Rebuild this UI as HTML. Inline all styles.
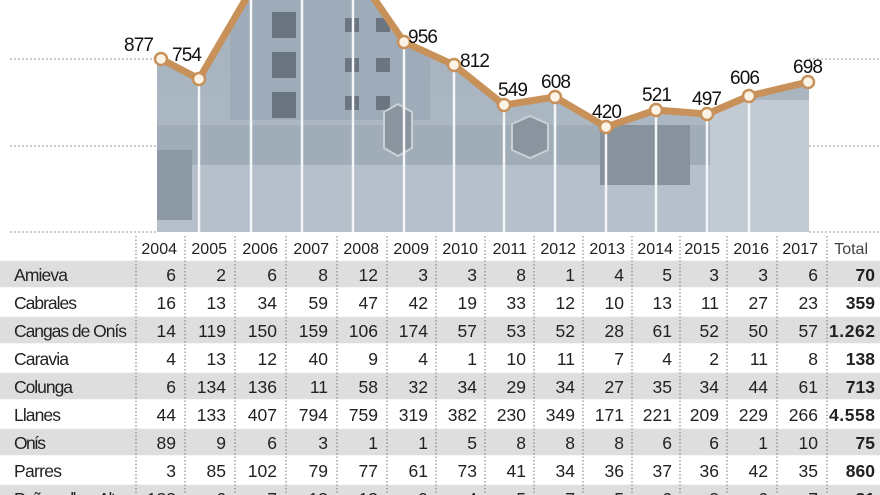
<!DOCTYPE html>
<html><head><meta charset="utf-8"><style>
html,body{margin:0;padding:0;background:#fff;width:880px;height:495px;overflow:hidden}
svg{display:block}
text{font-family:"Liberation Sans",sans-serif;}
</style></head><body>
<svg width="880" height="495" viewBox="0 0 880 495" xmlns="http://www.w3.org/2000/svg">
<defs>
<clipPath id="ph"><polygon points="157,232 157,59 161,59 199,79 251,-10 302,-60 353,-32 404,42 454,65 504,105 555,97 606,127 656,110 707,114 749,96 808,82 809,82 809,232"/></clipPath>
<linearGradient id="sky" x1="0" y1="0" x2="0" y2="1"><stop offset="0" stop-color="#a2afbb"/><stop offset="0.6" stop-color="#aab6c1"/><stop offset="1" stop-color="#b9c3cc"/></linearGradient>
</defs>
<g stroke="#999" stroke-width="1" stroke-dasharray="2,2">
<line x1="10" y1="59" x2="157" y2="59"/><line x1="10" y1="146" x2="157" y2="146"/><line x1="10" y1="232" x2="157" y2="232"/>
<line x1="809" y1="59" x2="880" y2="59"/><line x1="809" y1="146" x2="880" y2="146"/><line x1="809" y1="232" x2="880" y2="232"/>
</g>
<g clip-path="url(#ph)">
<rect x="157" y="-70" width="652" height="302" fill="url(#sky)"/>
<rect x="157" y="125" width="652" height="40" fill="#a0adb9"/>
<rect x="157" y="165" width="652" height="67" fill="#b5c0ca"/>
<rect x="230" y="-70" width="200" height="190" fill="#9eabb8"/>
<g fill="#6a7580"><rect x="272" y="12" width="24" height="26"/><rect x="272" y="52" width="24" height="26"/><rect x="272" y="92" width="24" height="26"/>
<rect x="345" y="18" width="14" height="14"/><rect x="376" y="18" width="14" height="14"/><rect x="345" y="58" width="14" height="14"/><rect x="376" y="58" width="14" height="14"/><rect x="345" y="96" width="14" height="14"/><rect x="376" y="96" width="14" height="14"/></g>
<rect x="157" y="150" width="35" height="70" fill="#8c98a3"/>
<rect x="600" y="125" width="90" height="60" fill="#87929c"/>
<rect x="710" y="100" width="99" height="132" fill="#c2cbd3"/>
<polygon points="384,112 398,104 412,112 412,148 398,156 384,148" fill="#8a949e" stroke="#c9d0d6" stroke-width="2"/>
<polygon points="512,124 530,116 548,124 548,150 530,158 512,150" fill="#8a949e" stroke="#c9d0d6" stroke-width="2"/>
<g stroke="#f4f6f8" stroke-width="2.5"><line x1="199" y1="79" x2="199" y2="232"/><line x1="251" y1="0" x2="251" y2="232"/><line x1="302" y1="0" x2="302" y2="232"/><line x1="353" y1="0" x2="353" y2="232"/><line x1="404" y1="42" x2="404" y2="232"/><line x1="454" y1="65" x2="454" y2="232"/><line x1="504" y1="105" x2="504" y2="232"/><line x1="555" y1="97" x2="555" y2="232"/><line x1="606" y1="127" x2="606" y2="232"/><line x1="656" y1="110" x2="656" y2="232"/><line x1="707" y1="114" x2="707" y2="232"/><line x1="749" y1="96" x2="749" y2="232"/></g>
</g>
<polyline points="161,59 199,79 251,-10 302,-60 353,-32 404,42 454,65 504,105 555,97 606,127 656,110 707,114 749,96 808,82" fill="none" stroke="#c8915a" stroke-width="7" stroke-linejoin="round"/>
<g fill="#fbf3e6" stroke="#c8915a" stroke-width="2.5">
<circle cx="161" cy="59" r="6"/><circle cx="199" cy="79" r="6"/><circle cx="404" cy="42" r="6"/><circle cx="454" cy="65" r="6"/><circle cx="504" cy="105" r="6"/><circle cx="555" cy="97" r="6"/><circle cx="606" cy="127" r="6"/><circle cx="656" cy="110" r="6"/><circle cx="707" cy="114" r="6"/><circle cx="749" cy="96" r="6"/><circle cx="808" cy="82" r="6"/></g>
<g font-size="19" fill="#111" text-anchor="middle">
<text x="139" y="51" textLength="30">877</text><text x="187" y="61" textLength="30">754</text><text x="423" y="43" textLength="30">956</text><text x="475" y="67" textLength="30">812</text><text x="513" y="96" textLength="30">549</text><text x="556" y="88" textLength="30">608</text><text x="607" y="118" textLength="30">420</text><text x="657" y="101" textLength="30">521</text><text x="707" y="105" textLength="30">497</text><text x="745" y="84" textLength="30">606</text><text x="808" y="73" textLength="30">698</text>
</g>
<g fill="#dedede">
<rect x="0" y="260" width="880" height="28"/><rect x="0" y="316" width="880" height="28"/><rect x="0" y="372" width="880" height="28"/><rect x="0" y="428" width="880" height="28"/><rect x="0" y="484" width="880" height="28"/>
</g>
<g stroke="#fff" stroke-width="1.5"><line x1="0" y1="260" x2="880" y2="260"/><line x1="0" y1="288" x2="880" y2="288"/><line x1="0" y1="316" x2="880" y2="316"/><line x1="0" y1="344" x2="880" y2="344"/><line x1="0" y1="372" x2="880" y2="372"/><line x1="0" y1="400" x2="880" y2="400"/><line x1="0" y1="428" x2="880" y2="428"/><line x1="0" y1="456" x2="880" y2="456"/><line x1="0" y1="484" x2="880" y2="484"/></g>
<g stroke="#777" stroke-width="1" stroke-dasharray="1.5,2">
<line x1="136" y1="236" x2="136" y2="495"/><line x1="185" y1="236" x2="185" y2="495"/><line x1="235" y1="236" x2="235" y2="495"/><line x1="286" y1="236" x2="286" y2="495"/><line x1="337" y1="236" x2="337" y2="495"/><line x1="387" y1="236" x2="387" y2="495"/><line x1="436" y1="236" x2="436" y2="495"/><line x1="485" y1="236" x2="485" y2="495"/><line x1="534" y1="236" x2="534" y2="495"/><line x1="583" y1="236" x2="583" y2="495"/><line x1="632" y1="236" x2="632" y2="495"/><line x1="680" y1="236" x2="680" y2="495"/><line x1="727" y1="236" x2="727" y2="495"/><line x1="777" y1="236" x2="777" y2="495"/><line x1="827" y1="236" x2="827" y2="495"/>
</g>
<g font-size="16" fill="#222" text-anchor="end">
<text x="177" y="254">2004</text><text x="227" y="254">2005</text><text x="278" y="254">2006</text><text x="329" y="254">2007</text><text x="379" y="254">2008</text><text x="429" y="254">2009</text><text x="478" y="254">2010</text><text x="527" y="254">2011</text><text x="576" y="254">2012</text><text x="625" y="254">2013</text><text x="673" y="254">2014</text><text x="720" y="254">2015</text><text x="769" y="254">2016</text><text x="818" y="254">2017</text><text x="868" y="254" fill="#444">Total</text>
</g>
<g font-size="17.5" fill="#222">
<text x="14" y="281" textLength="54">Amieva</text><text x="14" y="309" textLength="63">Cabrales</text><text x="14" y="337" textLength="113">Cangas de Onís</text><text x="14" y="365" textLength="55">Caravia</text><text x="14" y="393" textLength="59">Colunga</text><text x="14" y="421" textLength="47">Llanes</text><text x="14" y="449" textLength="32">Onís</text><text x="14" y="477" textLength="48">Parres</text><text x="14" y="505" textLength="110">Peñamellera Alta</text>
</g>
<g font-size="17.5" fill="#222" text-anchor="end">
<g transform="translate(0,281)"><text x="176">6</text><text x="226">2</text><text x="277">6</text><text x="328">8</text><text x="378">12</text><text x="428">3</text><text x="477">3</text><text x="526">8</text><text x="575">1</text><text x="624">4</text><text x="672">5</text><text x="719">3</text><text x="768">3</text><text x="818">6</text><text x="875" font-weight="bold">70</text></g>
<g transform="translate(0,309)"><text x="176">16</text><text x="226">13</text><text x="277">34</text><text x="328">59</text><text x="378">47</text><text x="428">42</text><text x="477">19</text><text x="526">33</text><text x="575">12</text><text x="624">10</text><text x="672">13</text><text x="719">11</text><text x="768">27</text><text x="818">23</text><text x="875" font-weight="bold">359</text></g>
<g transform="translate(0,337)"><text x="176">14</text><text x="226">119</text><text x="277">150</text><text x="328">159</text><text x="378">106</text><text x="428">174</text><text x="477">57</text><text x="526">53</text><text x="575">52</text><text x="624">28</text><text x="672">61</text><text x="719">52</text><text x="768">50</text><text x="818">57</text><text x="875" font-weight="bold" textLength="46">1.262</text></g>
<g transform="translate(0,365)"><text x="176">4</text><text x="226">13</text><text x="277">12</text><text x="328">40</text><text x="378">9</text><text x="428">4</text><text x="477">1</text><text x="526">10</text><text x="575">11</text><text x="624">7</text><text x="672">4</text><text x="719">2</text><text x="768">11</text><text x="818">8</text><text x="875" font-weight="bold">138</text></g>
<g transform="translate(0,393)"><text x="176">6</text><text x="226">134</text><text x="277">136</text><text x="328">11</text><text x="378">58</text><text x="428">32</text><text x="477">34</text><text x="526">29</text><text x="575">34</text><text x="624">27</text><text x="672">35</text><text x="719">34</text><text x="768">44</text><text x="818">61</text><text x="875" font-weight="bold">713</text></g>
<g transform="translate(0,421)"><text x="176">44</text><text x="226">133</text><text x="277">407</text><text x="328">794</text><text x="378">759</text><text x="428">319</text><text x="477">382</text><text x="526">230</text><text x="575">349</text><text x="624">171</text><text x="672">221</text><text x="719">209</text><text x="768">229</text><text x="818">266</text><text x="875" font-weight="bold" textLength="46">4.558</text></g>
<g transform="translate(0,449)"><text x="176">89</text><text x="226">9</text><text x="277">6</text><text x="328">3</text><text x="378">1</text><text x="428">1</text><text x="477">5</text><text x="526">8</text><text x="575">8</text><text x="624">8</text><text x="672">6</text><text x="719">6</text><text x="768">1</text><text x="818">10</text><text x="875" font-weight="bold">75</text></g>
<g transform="translate(0,477)"><text x="176">3</text><text x="226">85</text><text x="277">102</text><text x="328">79</text><text x="378">77</text><text x="428">61</text><text x="477">73</text><text x="526">41</text><text x="575">34</text><text x="624">36</text><text x="672">37</text><text x="719">36</text><text x="768">42</text><text x="818">35</text><text x="875" font-weight="bold">860</text></g>
<g transform="translate(0,505)"><text x="176">133</text><text x="226">6</text><text x="277">7</text><text x="328">13</text><text x="378">13</text><text x="428">9</text><text x="477">4</text><text x="526">5</text><text x="575">7</text><text x="624">5</text><text x="672">6</text><text x="719">3</text><text x="768">6</text><text x="818">7</text><text x="875" font-weight="bold">81</text></g>
</g>
</svg>
</body></html>
